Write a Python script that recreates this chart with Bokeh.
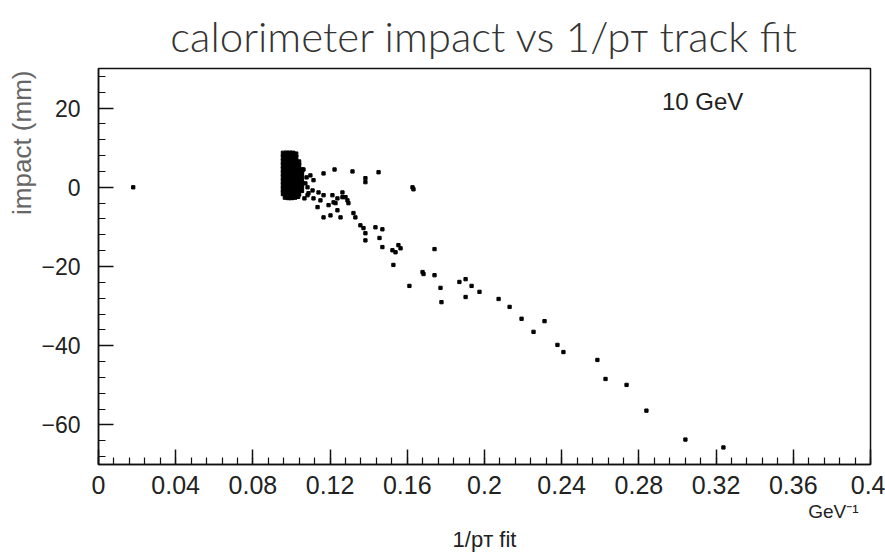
from bokeh.plotting import figure
from bokeh.models import Range1d, Label, Title, SingleIntervalTicker, NumeralTickFormatter
from bokeh.embed import file_html
from bokeh.resources import INLINE

# ---- data ----
# dense core of events near 1/pT = 0.1 GeV^-1
core_x = [0.0960, 0.0975, 0.0990, 0.1005, 0.1020,
          0.0960, 0.0975, 0.0990, 0.1005, 0.1020,
          0.0960, 0.0975, 0.0990, 0.1005, 0.1020, 0.1035,
          0.0960, 0.0975, 0.0990, 0.1005, 0.1020, 0.1035,
          0.0960, 0.0975, 0.0990, 0.1005, 0.1020, 0.1035, 0.1050,
          0.0960, 0.0975, 0.0990, 0.1005, 0.1020, 0.1035, 0.1050,
          0.0960, 0.0975, 0.0990, 0.1005, 0.1020, 0.1035, 0.1050,
          0.0960, 0.0975, 0.0990, 0.1005, 0.1020, 0.1035, 0.1050,
          0.0960, 0.0975, 0.0990, 0.1005, 0.1020, 0.1035, 0.1050,
          0.0960, 0.0975, 0.0990, 0.1005, 0.1020, 0.1035, 0.1050,
          0.0960, 0.0975, 0.0990, 0.1005, 0.1020, 0.1035,
          0.0970, 0.0985, 0.1000, 0.1015, 0.1030]
core_y = [8.5, 8.5, 8.5, 8.5, 8.3,
          7.5, 7.5, 7.5, 7.5, 7.5,
          6.5, 6.5, 6.5, 6.5, 6.5, 6.3,
          5.5, 5.5, 5.5, 5.5, 5.5, 5.5,
          4.5, 4.5, 4.5, 4.5, 4.5, 4.5, 4.3,
          3.5, 3.5, 3.5, 3.5, 3.5, 3.5, 3.6,
          2.5, 2.5, 2.5, 2.5, 2.5, 2.5, 2.4,
          1.5, 1.5, 1.5, 1.5, 1.5, 1.5, 1.2,
          0.5, 0.5, 0.5, 0.5, 0.5, 0.5, 0.6,
          -0.5, -0.5, -0.5, -0.5, -0.5, -0.5, -0.7,
          -1.5, -1.5, -1.5, -1.5, -1.5, -1.6,
          -2.4, -2.5, -2.5, -2.4, -2.2]

# scattered events
scat_x = [0.0180, 0.1062, 0.1072, 0.1078, 0.1088, 0.1067,
          0.1098, 0.1114, 0.1083, 0.1109, 0.1140, 0.1166, 0.1212, 0.1238, 0.1264,
          0.1290, 0.1295, 0.1218, 0.1192, 0.1150, 0.1114, 0.1083, 0.1135, 0.1238,
          0.1166, 0.1202, 0.1254, 0.1321, 0.1331, 0.1357, 0.1373, 0.1383, 0.1435,
          0.1471, 0.1383, 0.1456, 0.1471, 0.1523, 0.1539, 0.1554, 0.1565, 0.1528,
          0.1679, 0.1684, 0.1741, 0.1741, 0.1611, 0.1772, 0.1777, 0.1870, 0.1902,
          0.1933, 0.1902, 0.1974, 0.2073, 0.2130, 0.2192, 0.2311, 0.2254, 0.2378,
          0.2409, 0.2585, 0.2627, 0.2736, 0.2839, 0.3041, 0.3238,
          0.1166, 0.1223, 0.1316, 0.1383, 0.1383, 0.1451, 0.1627, 0.1632,
          0.1264, 0.1280, 0.1228]
scat_y = [0.0, 4.5, 1.0, 2.5, -1.5, -2.8,
          3.0, 1.8, 0.0, -0.8, -1.3, -2.0, -2.0, -2.8, -2.5,
          -3.3, -4.0, -3.8, -4.5, -3.3, -2.8, -2.0, -5.0, -5.8,
          -7.6, -7.1, -7.6, -6.5, -7.6, -9.6, -10.3, -11.6, -10.1,
          -10.6, -13.4, -12.8, -15.1, -15.9, -16.4, -14.6, -15.4, -19.6,
          -21.4, -21.9, -22.2, -15.6, -24.9, -25.4, -29.0, -23.9, -23.2,
          -24.9, -27.7, -26.4, -28.2, -30.2, -33.2, -33.8, -36.5, -39.8,
          -41.6, -43.6, -48.4, -49.9, -56.4, -63.7, -65.7,
          3.5, 4.5, 4.0, 2.3, 1.3, 3.8, 0.0, -0.5,
          -1.3, -2.5, -4.0]

x_start, x_end = 0.0, 0.4
y_start, y_end = -70, 30

title_text = "calorimeter impact vs 1/p\u1d1b track fit"
x_label = "1/p\u1d1b fit"
x_unit = "GeV\u207b\u00b9"
y_label = "impact (mm)"
energy_text = "10 GeV"

FL, FR, FT, FB = 98, 870, 68, 464

p = figure(width=885, height=554, x_range=Range1d(x_start, x_end), y_range=Range1d(y_start, y_end),
           output_backend="svg", toolbar_location=None,
           min_border_left=FL, min_border_right=885 - FR, min_border_top=FT, min_border_bottom=554 - FB)
p.background_fill_color = "white"
p.border_fill_color = "white"
p.grid.visible = False
p.outline_line_color = "#111111"
p.outline_line_width = 1.5

font = "Liberation Sans"
light_font = "'Lato Light', 'Open Sans Light', 'Liberation Sans', sans-serif"
axis_font = "'Liberation Sans Narrow', 'Liberation Sans', sans-serif"

p.title.text = title_text
p.title.align = "center"
p.title.text_font = light_font
p.title.text_font_style = "normal"
p.title.text_font_size = "42px"
p.title.text_color = "#333333"
p.title.standoff = 16

p.xaxis.ticker = SingleIntervalTicker(interval=0.04, num_minor_ticks=5)
p.yaxis.ticker = SingleIntervalTicker(interval=20, num_minor_ticks=5)
p.xaxis.formatter = NumeralTickFormatter(format="0.[00]")

for ax in (p.xaxis[0], p.yaxis[0]):
    ax.major_tick_in = 15
    ax.major_tick_out = 0
    ax.minor_tick_in = 7
    ax.minor_tick_out = 0
    ax.axis_line_color = "#111111"
    ax.axis_line_width = 1.5
    ax.major_tick_line_color = "#111111"
    ax.major_tick_line_width = 1.5
    ax.minor_tick_line_color = "#111111"
    ax.minor_tick_line_width = 1.2
    ax.major_label_text_color = "#222222"
    ax.major_label_text_font = axis_font
p.xaxis.major_label_text_font_size = "25px"
p.xaxis.major_label_standoff = 11
p.yaxis.major_label_text_font_size = "23px"
p.yaxis.major_label_standoff = 18

p.add_layout(Title(text=x_unit, align="right", offset=12, standoff=4, text_font=font,
                   text_font_style="normal", text_font_size="19px", text_color="#222222"), "below")
p.add_layout(Title(text=x_label, align="center", standoff=2, text_font=font,
                   text_font_style="normal", text_font_size="22px", text_color="#222222"), "below")
p.add_layout(Title(text=y_label, align="right", offset=2, standoff=4, text_font=font,
                   text_font_style="normal", text_font_size="26px", text_color="#666666"), "left")

p.scatter(core_x, core_y, marker="square", size=5, color="black")
p.scatter(scat_x, scat_y, marker="square", size=3.3, color="black")

p.add_layout(Label(x=0.313, y=21.6, text=energy_text, text_align="center",
                   text_baseline="alphabetic", text_font=font, text_font_size="24px",
                   text_color="#222222"))

open("out.html", "w").write(file_html(p, INLINE))
